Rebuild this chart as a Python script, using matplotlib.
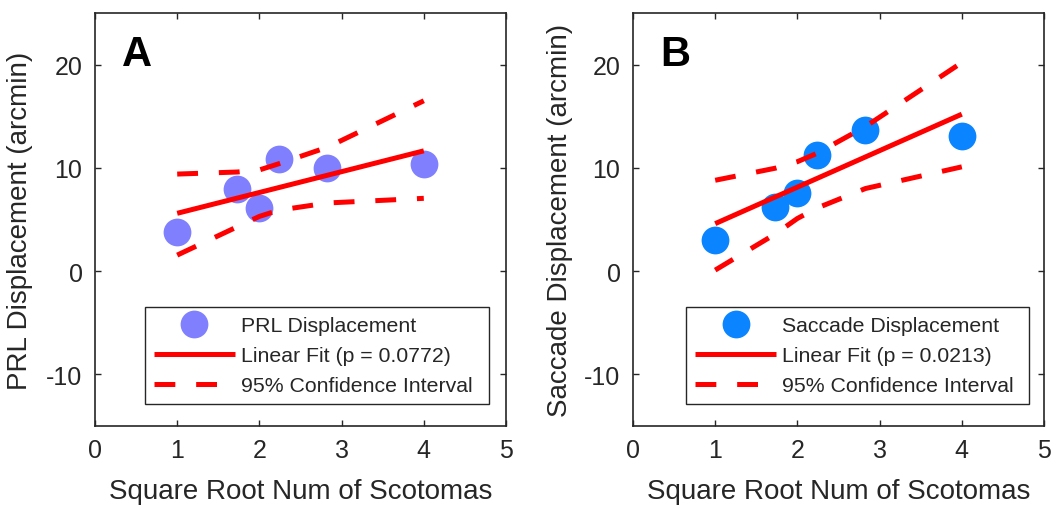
import matplotlib
matplotlib.use("Agg")
import matplotlib.pyplot as plt
from matplotlib.lines import Line2D

plt.rcParams['font.family'] = ['Liberation Sans', 'DejaVu Sans']
plt.rcParams['lines.scale_dashes'] = False
plt.rcParams['axes.unicode_minus'] = False

# ---- data ----
x_vals = [1.0, 1.732, 2.0, 2.236, 2.828, 4.0]

prl_y = [3.8, 8.0, 6.15, 10.9, 9.95, 10.4]
prl_fit_x = [1.0, 4.0]
prl_fit_y = [5.6, 11.65]
prl_ci_upper = [9.4, 9.6, 9.8, 10.4, 12.0, 16.5]
prl_ci_lower = [1.55, 4.3, 5.3, 5.9, 6.6, 7.05]

sac_y = [3.0, 6.2, 7.6, 11.25, 13.7, 13.05]
sac_fit_x = [1.0, 4.0]
sac_fit_y = [4.6, 15.2]
sac_ci_upper = [8.8, 9.97, 10.6, 11.4, 14.0, 20.2]
sac_ci_lower = [0.1, 3.6, 5.1, 6.1, 8.0, 10.1]

x_ticks = [0, 1, 2, 3, 4, 5]
y_ticks = [-10, 0, 10, 20]

panels = [
    dict(letter='A', y=prl_y, fx=prl_fit_x, fy=prl_fit_y, up=prl_ci_upper, lo=prl_ci_lower,
         color='#8080ff', ylabel='PRL Displacement (arcmin)',
         labels=['PRL Displacement', 'Linear Fit (p = 0.0772)', '95% Confidence Interval']),
    dict(letter='B', y=sac_y, fx=sac_fit_x, fy=sac_fit_y, up=sac_ci_upper, lo=sac_ci_lower,
         color='#0a84ff', ylabel='Saccade Displacement (arcmin)',
         labels=['Saccade Displacement', 'Linear Fit (p = 0.0213)', '95% Confidence Interval']),
]

W, H = 1057, 510
fig = plt.figure(figsize=(W / 100, H / 100), dpi=100)
lefts = [95, 633]
ylabel_x = [-0.151, -0.146]
leg_box = [(0.122, 0.053, 0.837, 0.235), (0.130, 0.053, 0.834, 0.235)]
dash = (0, (15, 15))
txtc = '#262626'

for i, p in enumerate(panels):
    ax = fig.add_axes([lefts[i] / W, 83 / H, 411 / W, 413 / H])
    ax.plot(x_vals, p['y'], 'o', ms=20, mfc=p['color'], mec='none', zorder=2)
    ax.plot(p['fx'], p['fy'], '-', color='#ff0000', lw=3.6, solid_capstyle='butt', zorder=3)
    ax.plot(x_vals, p['up'], color='#ff0000', lw=3.6, linestyle=dash, zorder=3)
    ax.plot(x_vals, p['lo'], color='#ff0000', lw=3.6, linestyle=dash, zorder=3)

    ax.set_xlim(0, 5)
    ax.set_ylim(-15, 25)
    ax.set_xticks(x_ticks)
    ax.set_yticks(y_ticks)
    ax.tick_params(direction='in', length=4, width=1, top=True, right=True,
                   labelsize=18, colors=txtc, pad=9)
    for s in ax.spines.values():
        s.set_linewidth(1.2)
        s.set_color(txtc)

    ax.set_xlabel('Square Root Num of Scotomas', fontsize=20, color=txtc)
    ax.set_ylabel(p['ylabel'], fontsize=20, color=txtc)
    ax.xaxis.set_label_coords(0.5, -0.125)
    ax.yaxis.set_label_coords(ylabel_x[i], 0.5)

    ax.text(0.066, 0.874, p['letter'], transform=ax.transAxes, fontsize=30,
            fontweight='bold', color='black', ha='left', va='baseline')

    handles = [
        Line2D([], [], marker='o', ms=20, mfc=p['color'], mec='none', linestyle='none'),
        Line2D([], [], color='#ff0000', lw=3.6, solid_capstyle='butt'),
        Line2D([], [], color='#ff0000', lw=3.6, linestyle=dash),
    ]
    leg = ax.legend(handles, p['labels'], loc='lower left', bbox_to_anchor=leg_box[i],
                    mode='expand', borderaxespad=0, fontsize=15.3, handlelength=3.8,
                    handletextpad=0.3, labelspacing=0.52, borderpad=0.42, fancybox=False,
                    framealpha=1, edgecolor=txtc, labelcolor=txtc)
    leg.get_frame().set_linewidth(1.0)

fig.savefig('out.png', dpi=100)
